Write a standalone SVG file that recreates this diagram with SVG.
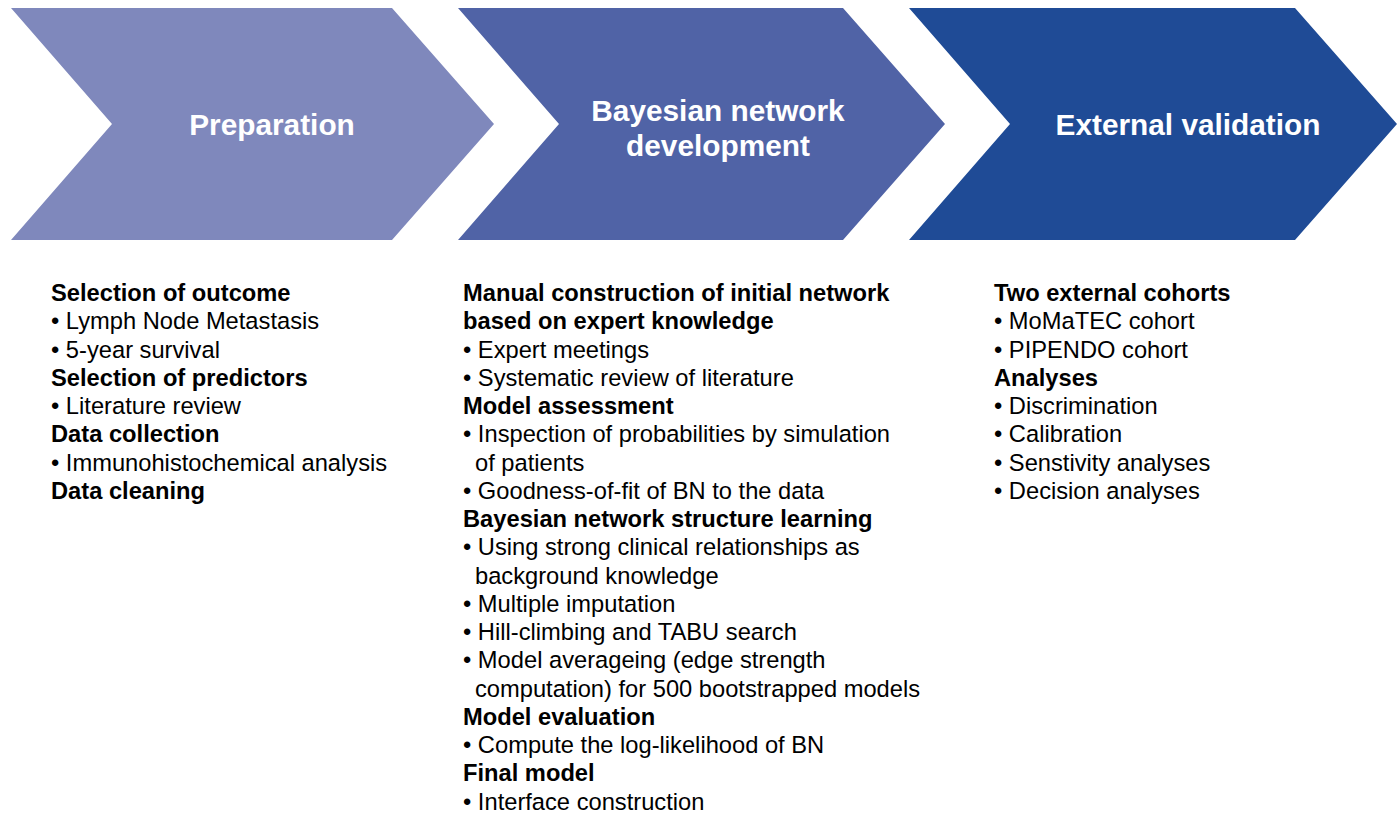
<svg xmlns="http://www.w3.org/2000/svg" width="1399" height="814" viewBox="0 0 1399 814">
<style>
.title{font-family:"Liberation Sans",Arial,sans-serif;font-weight:bold;font-size:29.8px;fill:#ffffff;text-anchor:middle}
.body{font-family:"Liberation Sans",Arial,sans-serif;font-size:23.7px;fill:#000000}
.h{font-weight:bold}
</style>
<rect width="1399" height="814" fill="#ffffff"/>
<g id="stage-preparation">
<polygon points="11,8 392,8 494,124 392,240 11,240 112,124" fill="#7f88bc"/>
<text class="title" x="272" y="135">Preparation</text>
</g>
<g id="stage-bn-development">
<polygon points="458,8 843,8 945,124 843,240 458,240 559,124" fill="#5063a6"/>
<text class="title" x="718" y="121">Bayesian network</text>
<text class="title" x="718" y="156">development</text>
</g>
<g id="stage-external-validation">
<polygon points="909,8 1295,8 1397,124 1295,240 909,240 1010,124" fill="#1f4b96"/>
<text class="title" x="1188" y="135">External validation</text>
</g>
<g id="connectors"></g>
<g id="list-preparation" class="body">
<text x="51" y="301" class="h">Selection of outcome</text>
<text x="51" y="329.3">• Lymph Node Metastasis</text>
<text x="51" y="357.5">• 5-year survival</text>
<text x="51" y="385.8" class="h">Selection of predictors</text>
<text x="51" y="414">• Literature review</text>
<text x="51" y="442.3" class="h">Data collection</text>
<text x="51" y="470.6">• Immunohistochemical analysis</text>
<text x="51" y="498.8" class="h">Data cleaning</text>
</g>
<g id="list-bn-development" class="body">
<text x="463" y="301" class="h">Manual construction of initial network</text>
<text x="463" y="329.3" class="h">based on expert knowledge</text>
<text x="463" y="357.5">• Expert meetings</text>
<text x="463" y="385.8">• Systematic review of literature</text>
<text x="463" y="414" class="h">Model assessment</text>
<text x="463" y="442.3">• Inspection of probabilities by simulation</text>
<text x="475" y="470.6">of patients</text>
<text x="463" y="498.8">• Goodness-of-fit of BN to the data</text>
<text x="463" y="527.1" class="h">Bayesian network structure learning</text>
<text x="463" y="555.3">• Using strong clinical relationships as</text>
<text x="475" y="583.6">background knowledge</text>
<text x="463" y="611.9">• Multiple imputation</text>
<text x="463" y="640.1">• Hill-climbing and TABU search</text>
<text x="463" y="668.4">• Model averageing (edge strength</text>
<text x="475" y="696.6">computation) for 500 bootstrapped models</text>
<text x="463" y="724.9" class="h">Model evaluation</text>
<text x="463" y="753.2">• Compute the log-likelihood of BN</text>
<text x="463" y="781.4" class="h">Final model</text>
<text x="463" y="809.7">• Interface construction</text>
</g>
<g id="list-external-validation" class="body">
<text x="994" y="301" class="h">Two external cohorts</text>
<text x="994" y="329.3">• MoMaTEC cohort</text>
<text x="994" y="357.5">• PIPENDO cohort</text>
<text x="994" y="385.8" class="h">Analyses</text>
<text x="994" y="414">• Discrimination</text>
<text x="994" y="442.3">• Calibration</text>
<text x="994" y="470.6">• Senstivity analyses</text>
<text x="994" y="498.8">• Decision analyses</text>
</g>
</svg>
